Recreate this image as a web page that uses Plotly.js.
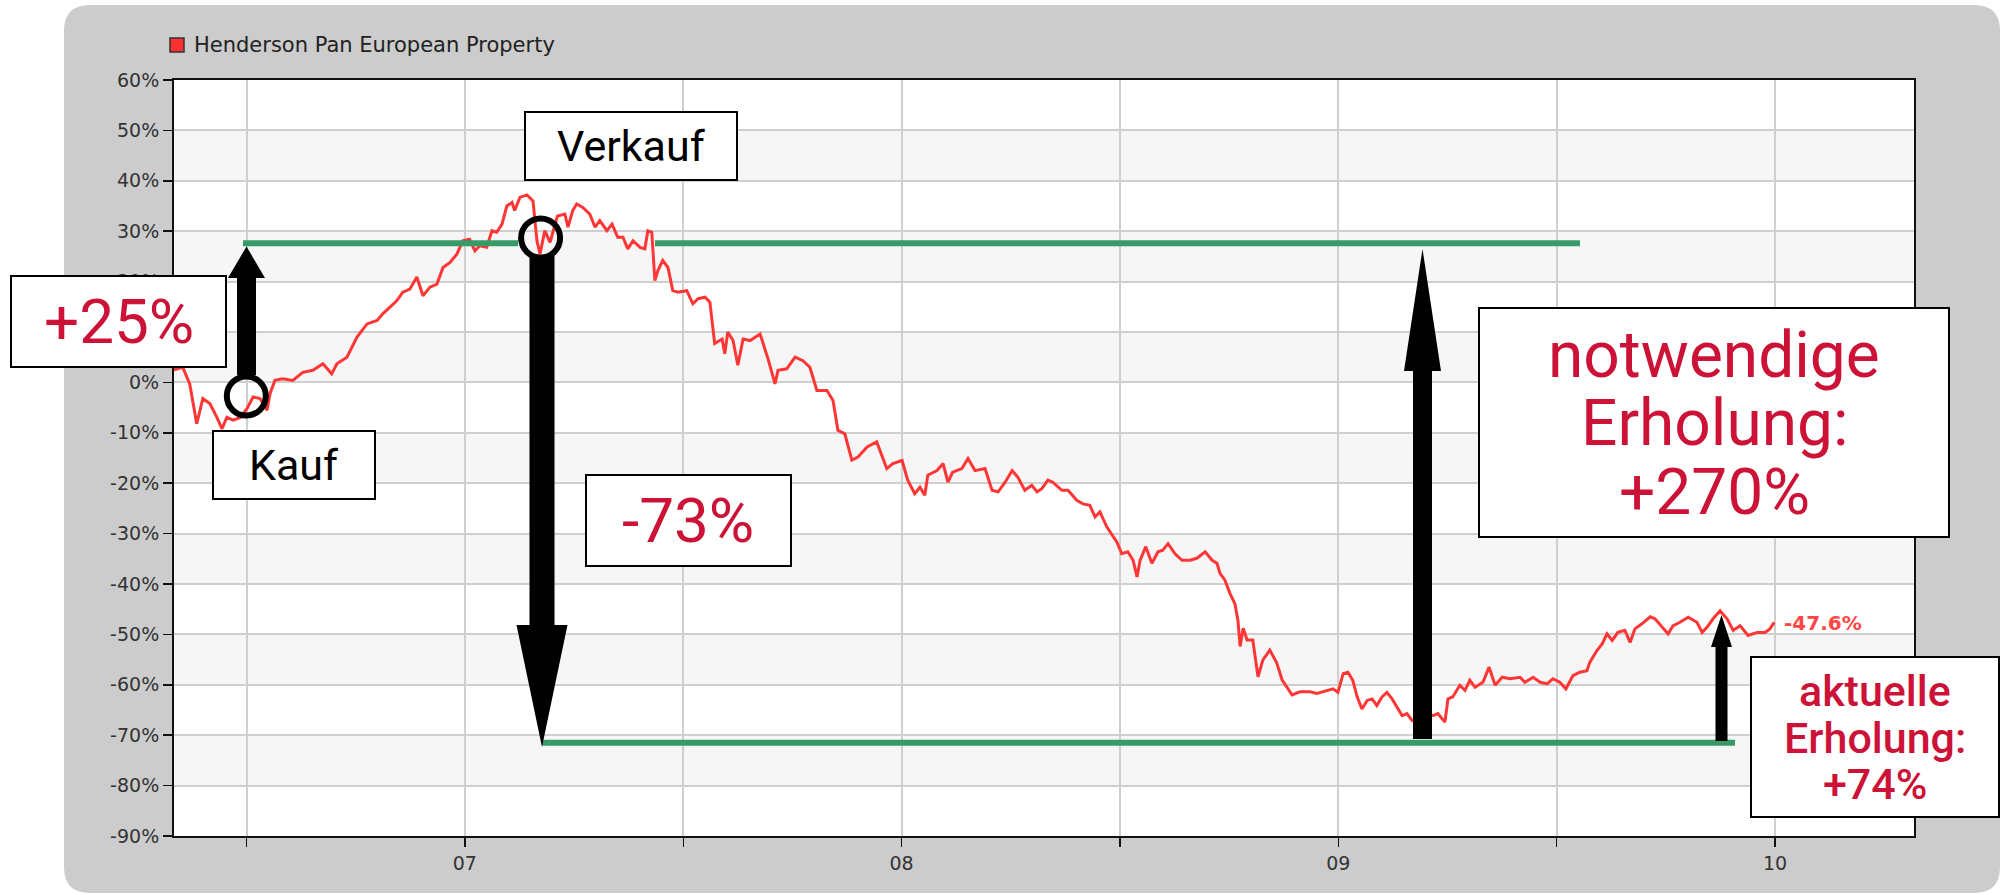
<!DOCTYPE html>
<html><head><meta charset="utf-8">
<script src="https://cdn.plot.ly/plotly-3.0.1.min.js"></script>
<style>html,body{margin:0;padding:0;background:#fff;}#chart{width:2004px;height:895px;}</style>
</head><body><div id="chart"></div>
<script>
// ---------- data ----------
const seriesName = 'Henderson Pan European Property';
const years = [
2006.334,2006.354,2006.370,2006.386,2006.400,2006.416,2006.432,2006.444,2006.455,2006.469,
2006.485,2006.501,2006.515,2006.531,2006.547,2006.554,2006.565,2006.583,2006.606,2006.629,
2006.652,2006.675,2006.695,2006.707,2006.730,2006.753,2006.776,2006.799,2006.812,2006.828,
2006.844,2006.858,2006.874,2006.890,2006.904,2006.920,2006.936,2006.950,2006.966,2006.982,
2006.995,2007.011,2007.023,2007.034,2007.050,2007.062,2007.073,2007.085,2007.096,2007.108,
2007.114,2007.126,2007.142,2007.156,2007.165,2007.172,2007.183,2007.195,2007.212,2007.229,
2007.236,2007.247,2007.256,2007.270,2007.286,2007.298,2007.309,2007.325,2007.337,2007.350,
2007.362,2007.373,2007.385,2007.401,2007.412,2007.419,2007.428,2007.435,2007.442,2007.453,
2007.465,2007.476,2007.488,2007.508,2007.522,2007.534,2007.550,2007.561,2007.572,2007.589,
2007.595,2007.602,2007.614,2007.625,2007.637,2007.653,2007.676,2007.694,2007.710,2007.717,
2007.737,2007.756,2007.774,2007.790,2007.806,2007.829,2007.843,2007.854,2007.870,2007.886,
2007.900,2007.921,2007.943,2007.966,2007.980,2008.001,2008.014,2008.030,2008.042,2008.053,
2008.060,2008.081,2008.095,2008.106,2008.117,2008.138,2008.152,2008.168,2008.191,2008.207,
2008.221,2008.237,2008.253,2008.266,2008.282,2008.298,2008.310,2008.321,2008.335,2008.346,
2008.367,2008.381,2008.401,2008.415,2008.431,2008.443,2008.454,2008.470,2008.482,2008.493,
2008.504,2008.518,2008.530,2008.539,2008.546,2008.559,2008.573,2008.587,2008.598,2008.610,
2008.626,2008.642,2008.660,2008.676,2008.695,2008.711,2008.722,2008.729,2008.740,2008.752,
2008.763,2008.770,2008.775,2008.782,2008.791,2008.804,2008.816,2008.827,2008.843,2008.859,
2008.871,2008.882,2008.894,2008.912,2008.935,2008.951,2008.974,2008.988,2008.999,2009.011,
2009.022,2009.033,2009.043,2009.054,2009.066,2009.077,2009.088,2009.100,2009.111,2009.123,
2009.134,2009.146,2009.157,2009.169,2009.187,2009.203,2009.217,2009.228,2009.244,2009.251,
2009.262,2009.278,2009.290,2009.301,2009.313,2009.331,2009.345,2009.359,2009.375,2009.393,
2009.416,2009.427,2009.446,2009.462,2009.478,2009.491,2009.507,2009.521,2009.537,2009.553,
2009.569,2009.576,2009.592,2009.604,2009.615,2009.627,2009.640,2009.656,2009.668,2009.679,
2009.695,2009.714,2009.725,2009.741,2009.755,2009.766,2009.782,2009.801,2009.821,2009.833,
2009.844,2009.858,2009.874,2009.890,2009.904,2009.920,2009.938,2009.959,2009.977,2009.988,
2009.998];
const values = [
2.5,3.0,-0.3,-8.2,-3.2,-4.2,-6.9,-9.2,-6.9,-7.5,
-7.0,-5.2,-2.9,-3.2,-5.5,-2.2,0.4,0.7,0.4,2.0,
2.4,3.7,1.7,3.7,5.0,9.0,11.6,12.3,13.6,14.9,
16.2,17.9,18.5,20.9,17.2,18.9,19.5,22.8,23.8,25.5,
28.1,28.4,26.1,27.1,26.8,30.1,29.8,31.4,35.0,35.7,
34.1,36.7,37.2,36.0,28.1,25.5,30.1,27.8,33.0,33.4,
30.8,34.1,35.4,34.7,33.4,30.8,32.1,30.1,31.4,28.8,
28.8,26.5,28.1,26.8,26.5,30.1,29.8,20.2,22.2,24.2,
22.8,18.2,17.9,18.2,15.6,16.6,16.9,15.9,7.7,8.6,
5.7,10.0,8.3,3.4,8.6,8.3,9.6,4.7,-0.3,2.4,
2.7,5.0,4.3,3.0,-1.6,-1.6,-3.6,-9.5,-10.2,-15.4,
-14.8,-12.8,-11.8,-17.1,-16.1,-15.5,-19.4,-22.1,-20.8,-22.4,
-18.4,-17.5,-16.1,-19.8,-17.8,-17.1,-15.1,-17.5,-17.1,-21.4,
-21.7,-19.8,-17.5,-18.8,-21.4,-20.4,-21.7,-21.1,-19.4,-19.8,
-21.4,-21.4,-23.4,-24.1,-24.4,-26.7,-25.7,-28.7,-30.3,-31.7,
-34.0,-33.6,-35.3,-38.6,-35.3,-32.6,-35.9,-33.6,-33.3,-32.0,
-34.0,-35.3,-35.3,-34.9,-33.6,-35.3,-35.9,-37.9,-39.2,-41.9,
-43.9,-47.2,-52.4,-48.8,-51.1,-51.1,-58.4,-55.1,-53.1,-55.7,
-59.0,-60.4,-62.0,-61.4,-61.4,-61.7,-61.1,-60.8,-61.5,-57.8,
-57.5,-59.1,-62.4,-64.8,-63.1,-62.8,-64.1,-62.4,-61.5,-62.8,
-64.4,-66.1,-65.7,-67.1,-66.8,-66.0,-66.1,-65.7,-67.4,-62.8,
-62.4,-60.1,-61.1,-59.1,-60.5,-59.5,-56.5,-60.1,-58.5,-58.8,
-58.5,-59.5,-58.5,-59.5,-59.8,-58.8,-59.5,-60.8,-58.2,-57.5,
-57.2,-55.5,-53.2,-51.9,-49.9,-51.2,-49.6,-49.2,-51.6,-48.9,
-47.9,-46.5,-46.9,-48.6,-49.9,-48.3,-47.6,-46.6,-47.6,-49.6,
-48.6,-46.9,-45.3,-46.9,-49.2,-48.3,-50.2,-49.6,-49.6,-48.9,
-47.6];
const yTickVals = [-90,-80,-70,-60,-50,-40,-30,-20,-10,0,10,20,30,40,50,60];
const xTickVals = [2006.5,2007,2007.5,2008,2008.5,2009,2009.5,2010];
const xTickText = ['','07','','08','','09','','10'];
// annotation texts and levels
const sellLevel = 27.6;     // upper green line (%)
const lowLevel = -71.5;     // lower green line (%)
const labelBuy = 'Kauf', labelSell = 'Verkauf';
const labelGain = '+25%', labelLoss = '-73%';
const labelNeeded = ['notwendige','Erholung:','+270%'];
const labelActual = ['aktuelle','Erholung:','+74%'];

// ---------- geometry helpers (pixel -> paper) ----------
const L = 174, R = 1914, T = 80, B = 836;
const X0 = 2006.334, X1 = 2010.318;
const px = x => (x - L) / (R - L);
const py = y => (B - y) / (B - T);
const xv = x => X0 + (x - L) / (R - L) * (X1 - X0);   // pixel -> data x
const P = (x, y) => px(x).toFixed(5) + ',' + py(y).toFixed(5);

const RED = '#cc1236';
const tickFont = {family: 'DejaVu Sans, sans-serif', size: 19, color: '#333'};
const boxFont = 'Roboto, sans-serif';

const shapes = [];
// gray rounded frame with hole for plot area
(function(){
  const x0=64,y0=5,x1=2000,y1=893,r=26;
  let d = 'M'+P(x0+r,y0)+' L'+P(x1-r,y0)+' Q'+P(x1,y0)+' '+P(x1,y0+r)+
          ' L'+P(x1,y1-r)+' Q'+P(x1,y1)+' '+P(x1-r,y1)+
          ' L'+P(x0+r,y1)+' Q'+P(x0,y1)+' '+P(x0,y1-r)+
          ' L'+P(x0,y0+r)+' Q'+P(x0,y0)+' '+P(x0+r,y0)+' Z';
  d += ' M'+P(L,T)+' L'+P(R,T)+' L'+P(R,B)+' L'+P(L,B)+' Z';
  shapes.push({type:'path', xref:'paper', yref:'paper', path:d, fillcolor:'#cccccc', fillrule:'evenodd', line:{width:0}, layer:'below'});
})();
// alternating bands
for (let v = -80; v < 60; v += 20) {
  shapes.push({type:'rect', xref:'x', yref:'y', x0:X0, x1:X1, y0:v, y1:v+10, fillcolor:'#f6f6f6', line:{width:0}, layer:'below'});
}
// green level lines
const GREEN = '#379b68';
shapes.push({type:'line', xref:'x', yref:'y', x0:xv(243), x1:xv(518), y0:sellLevel, y1:sellLevel, line:{color:GREEN, width:6}, layer:'above'});
shapes.push({type:'line', xref:'x', yref:'y', x0:xv(655), x1:xv(1580), y0:sellLevel, y1:sellLevel, line:{color:GREEN, width:6}, layer:'above'});
shapes.push({type:'line', xref:'x', yref:'y', x0:xv(542), x1:xv(1735), y0:lowLevel, y1:lowLevel, line:{color:GREEN, width:6}, layer:'above'});

function arrow(cx, tailY, baseY, tipY, sw, hw) {
  const d = 'M'+P(cx-sw,tailY)+' L'+P(cx-sw,baseY)+' L'+P(cx-hw,baseY)+' L'+P(cx,tipY)+
            ' L'+P(cx+hw,baseY)+' L'+P(cx+sw,baseY)+' L'+P(cx+sw,tailY)+' Z';
  shapes.push({type:'path', xref:'paper', yref:'paper', path:d, fillcolor:'#000', line:{width:0}, layer:'above'});
}
arrow(246.5, 375, 278, 246.5, 9.5, 18.5);     // Kauf -> +25%
arrow(542, 255, 625, 747, 12.5, 25.5);        // Verkauf -> -73%
arrow(1422.5, 739, 371, 249, 9.5, 18.5);      // notwendige Erholung
arrow(1721.5, 741, 647, 615, 6, 10.5);        // aktuelle Erholung

function circle(cx, cy, r) {
  shapes.push({type:'circle', xref:'paper', yref:'paper', x0:px(cx-r), x1:px(cx+r), y0:py(cy+r), y1:py(cy-r),
    line:{color:'#000', width:6}, fillcolor:'rgba(0,0,0,0)', layer:'above'});
}
circle(246.3, 396, 19.5);
circle(540.6, 238, 19.5);

function box(x0, y0, x1, y1) {
  shapes.push({type:'rect', xref:'paper', yref:'paper', x0:px(x0), x1:px(x1), y0:py(y1), y1:py(y0),
    fillcolor:'#fff', line:{color:'#000', width:2}, layer:'above'});
}
box(11, 276, 226, 367);
box(213, 431, 375, 499);
box(525, 112, 737, 180);
box(586, 475, 791, 566);
box(1479, 308, 1949, 537);
box(1751, 657, 1999, 817);
// legend swatch
shapes.push({type:'rect', xref:'paper', yref:'paper', x0:px(170), x1:px(184), y0:py(52), y1:py(38),
  fillcolor:'#ff3030', line:{color:'#333', width:1.5}, layer:'above'});

const annotations = [];
function txt(text, cx, cy, size, color, weight) {
  annotations.push({xref:'paper', yref:'paper', x:px(cx), y:py(cy), text:text, showarrow:false,
    xanchor:'center', yanchor:'middle', font:{family:boxFont, size:size, color:color, weight:weight||'normal'}});
}
txt(labelGain, 118.5, 321, 62, RED);
txt(labelBuy, 294, 465, 43, '#000');
txt(labelSell, 631, 146, 43, '#000');
txt(labelLoss, 688, 520, 62, RED);
labelNeeded.forEach((t,i)=>txt(t, 1714, 355 + i*68.5, 64, RED));
labelActual.forEach((t,i)=>txt(t, 1875, 691 + i*46.5, 43, RED, 500));
// legend text
annotations.push({xref:'paper', yref:'paper', x:px(192), y:py(45), xanchor:'left', yanchor:'middle', showarrow:false,
  text:seriesName, font:{family:tickFont.family, size:21, color:'#222'}});
// last value label
const lastV = values[values.length-1];
annotations.push({xref:'x', yref:'y', x:years[years.length-1], y:lastV, xanchor:'left', yanchor:'middle', xshift:8, yshift:-1, showarrow:false,
  text:(lastV).toFixed(1)+'%', font:{family:'DejaVu Sans, sans-serif', size:20, color:'#ff4646', weight:'bold'}});

const trace = {type:'scatter', mode:'lines', x:years, y:values, name:seriesName,
  line:{color:'#ff3636', width:3}, hoverinfo:'skip'};

const axisCommon = {showgrid:true, gridcolor:'#cfcfcf', gridwidth:2, ticks:'outside', ticklen:9, tickwidth:1.5,
  tickcolor:'#111', showline:true, linecolor:'#111', linewidth:2, mirror:true, zeroline:false, tickfont:tickFont, fixedrange:true};

const layout = {
  width:2004, height:895, margin:{l:L, r:2004-R, t:T, b:895-B, pad:0},
  paper_bgcolor:'#ffffff', plot_bgcolor:'#ffffff', showlegend:false,
  xaxis:Object.assign({}, axisCommon, {type:'linear', range:[X0, X1], tickmode:'array', tickvals:xTickVals, ticktext:xTickText}),
  yaxis:Object.assign({}, axisCommon, {range:[-90,60], tickmode:'array', tickvals:yTickVals, ticktext:yTickVals.map(v=>v+'%')}),
  shapes:shapes, annotations:annotations
};
Plotly.newPlot('chart', [trace], layout, {displayModeBar:false, staticPlot:true});
</script></body></html>
